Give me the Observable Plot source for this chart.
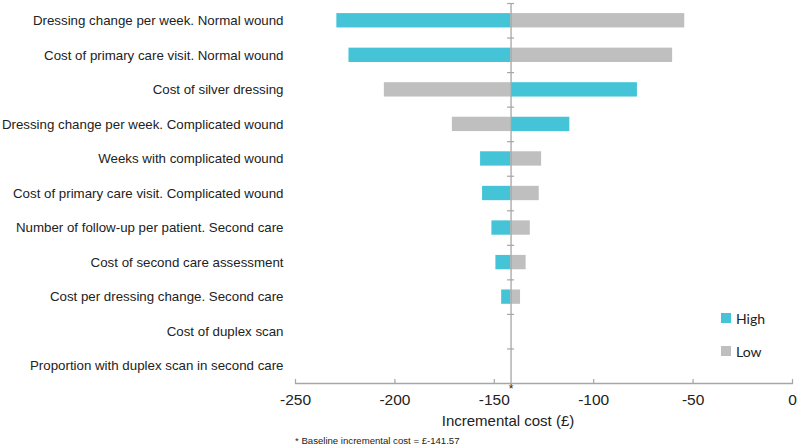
<!DOCTYPE html>
<html><head><meta charset="utf-8">
<script src="https://cdn.jsdelivr.net/npm/d3@7"></script>
<script src="https://cdn.jsdelivr.net/npm/@observablehq/plot@0.6"></script>
<style>
body{margin:0;background:#fff;font-family:"Liberation Sans",Arial,sans-serif;}
#wrap{position:relative;width:798px;height:447px;overflow:hidden;}
#legend{position:absolute;left:721px;top:310px;font-family:Lato,"Open Sans",sans-serif;font-size:14px;color:#222;}
#legend .item{display:flex;align-items:center;height:16px;margin-bottom:17px;}
#legend .sw{width:10px;height:10px;margin-right:5px;}
#note{position:absolute;left:295px;top:435px;font-size:9.6px;color:#222;white-space:nowrap;}
</style></head><body>
<div id="wrap"><div id="chart"></div><div id="legend"></div><div id="note"></div></div>
<script>
const categories = [
  "Dressing change per week. Normal wound",
  "Cost of primary care visit. Normal wound",
  "Cost of silver dressing",
  "Dressing change per week. Complicated wound",
  "Weeks with complicated wound",
  "Cost of primary care visit. Complicated wound",
  "Number of follow-up per patient. Second care",
  "Cost of second care assessment",
  "Cost per dressing change. Second care",
  "Cost of duplex scan",
  "Proportion with duplex scan in second care"
];
const highValues = [-229.2, -223.1, -78.0, -112.0, -156.9, -155.9, -151.2, -149.2, -146.3, -141.57, -141.57];
const lowValues  = [-54.2, -60.3, -205.3, -171.1, -126.2, -127.4, -131.9, -134.0, -136.8, -141.57, -141.57];
const baseline = -141.57;
const xTicks = [-250, -200, -150, -100, -50, 0];
const seriesNames = ["High", "Low"];
const seriesColors = ["#44C4D6", "#BFBFBF"];
const axisTitle = "Incremental cost (£)";
const footnote = "* Baseline incremental cost = £-141.57";

const rows = categories.flatMap((c, i) => [
  {cat: c, series: "High", value: highValues[i]},
  {cat: c, series: "Low", value: lowValues[i]}
]);

const H = 432, MT = 3, MB = 49;
const step = (H - MT - MB) / categories.length;
const grey = "#A6A6A6";

const chart = Plot.plot({
  width: 798, height: H,
  marginTop: MT, marginBottom: MB, marginLeft: 295, marginRight: 6,
  style: {fontFamily: "'Liberation Sans', Arial, sans-serif", color: "#222", background: "#fff", overflow: "visible"},
  x: {domain: [-250, 0]},
  y: {domain: categories, paddingInner: 0.585, paddingOuter: 0.2925, round: false},
  color: {domain: seriesNames, range: seriesColors},
  marks: [
    Plot.barX(rows, {y: "cat", x1: () => baseline, x2: "value", fill: "series"}),
    Plot.ruleX([baseline], {stroke: grey, strokeWidth: 1.3}),
    Plot.ruleY(categories, {y: d => d, x1: () => baseline, x2: () => baseline, insetLeft: -3.5, insetRight: -3.5, dy: -step / 2, stroke: grey, strokeWidth: 1.2}),
    Plot.frame({anchor: "bottom", stroke: grey, strokeWidth: 1.3}),
    Plot.ruleX(xTicks, {insetTop: (H - MT - MB) - 4, stroke: grey, strokeWidth: 1.2}),
    Plot.axisX(xTicks, {tickSize: 0, tickPadding: 10, fontSize: 15.5, label: null, tickFormat: d => String(d)}),
    Plot.axisY({tickSize: 0, tickPadding: 12, fontSize: 13.3, label: null}),
    Plot.text([axisTitle], {text: d => d, frameAnchor: "bottom", lineAnchor: "middle", dy: 38, dx: -36, fontSize: 15, fill: "#222"}),
    Plot.text(["*"], {text: d => d, x: () => baseline, frameAnchor: "bottom", lineAnchor: "top", dy: 1, fontSize: 12, fill: "#222"})
  ]
});
document.getElementById("chart").appendChild(chart);

const legend = document.getElementById("legend");
seriesNames.forEach((n, i) => {
  const it = document.createElement("div");
  it.className = "item";
  const sw = document.createElement("span");
  sw.className = "sw"; sw.style.background = seriesColors[i];
  const t = document.createElement("span"); t.textContent = n;
  it.appendChild(sw); it.appendChild(t);
  legend.appendChild(it);
});
document.getElementById("note").textContent = footnote;
</script>
</body></html>
